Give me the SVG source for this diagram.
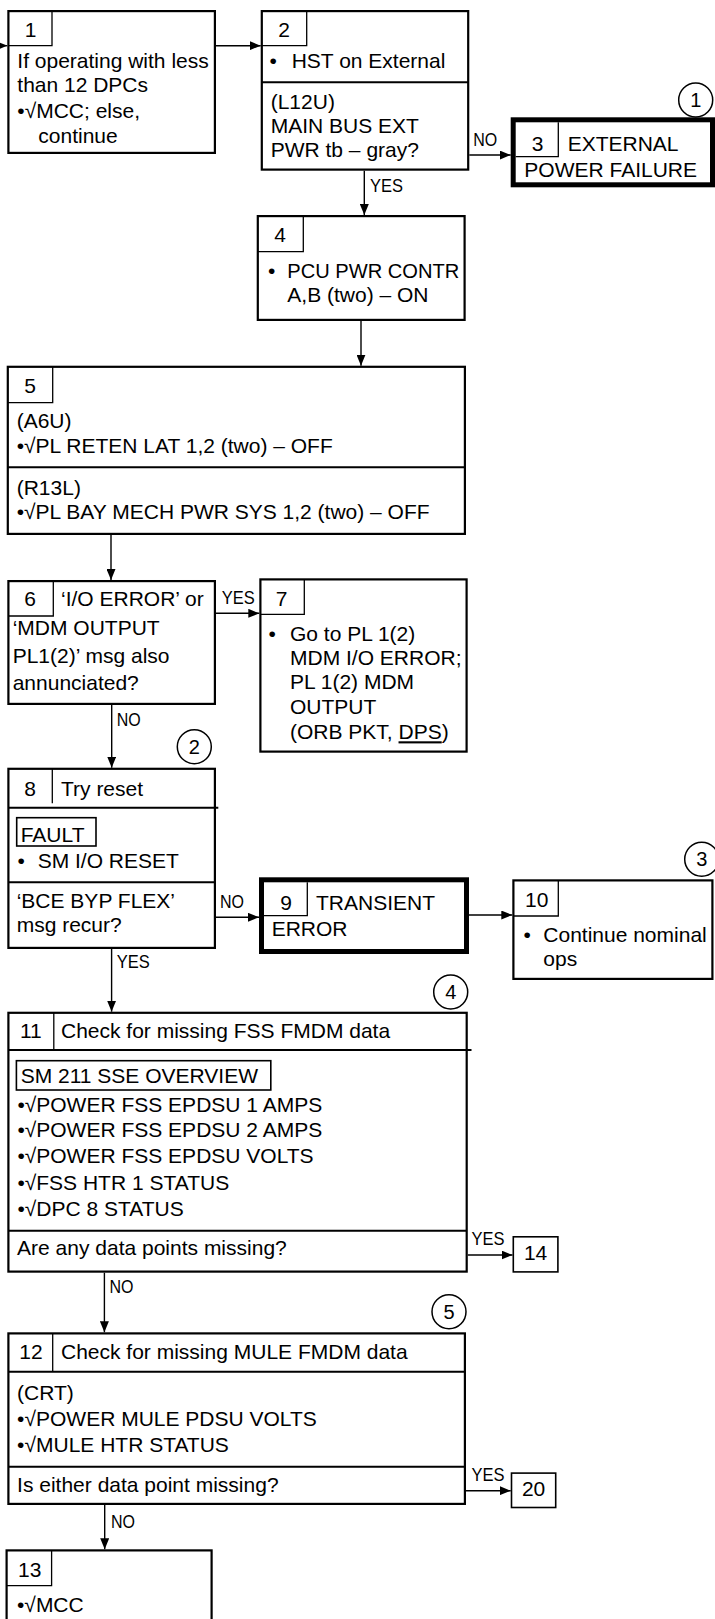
<svg xmlns="http://www.w3.org/2000/svg" width="715" height="1619" viewBox="0 0 715 1619">
<style>
.box{fill:#fff;stroke:#000;stroke-width:2.2}
.thick{fill:#fff;stroke:#000;stroke-width:5}
.small{fill:#fff;stroke:#000;stroke-width:1.6}
.cell{fill:none;stroke:#000;stroke-width:1.3}
.dv{fill:none;stroke:#000;stroke-width:2}
.frame{fill:none;stroke:#000;stroke-width:1.6}
.circ{fill:#fff;stroke:#000;stroke-width:1.5}
text{font-family:"Liberation Sans",Arial,sans-serif;font-size:21px;fill:#000}
.n{text-anchor:middle}
.c{text-anchor:middle;font-size:20px}
.lbl{font-size:18px}
.conn{fill:none;stroke:#000;stroke-width:1.4;marker-end:url(#arr)}
</style>
<defs>
<marker id="arr" markerWidth="11" markerHeight="9" refX="11" refY="4.5" orient="auto" markerUnits="userSpaceOnUse"><path d="M0,0 L11,4.5 L0,9 z" fill="#000"/></marker>
</defs>

<g id="connectors">
<line class="conn" x1="-10" y1="45.7" x2="7.3" y2="45.7"/>
<line class="conn" x1="215.6" y1="45.7" x2="260.7" y2="45.7"/>
<line class="conn" x1="469.3" y1="155" x2="510.7" y2="155"/>
<text class="lbl" x="473.3" y="146" textLength="24" lengthAdjust="spacingAndGlyphs">NO</text>
<line class="conn" x1="364.3" y1="170.7" x2="364.3" y2="215"/>
<text class="lbl" x="370" y="191.7" textLength="33" lengthAdjust="spacingAndGlyphs">YES</text>
<line class="conn" x1="361" y1="321" x2="361" y2="365.7"/>
<line class="conn" x1="111" y1="535" x2="111" y2="580"/>
<line class="conn" x1="216" y1="613.3" x2="259.3" y2="613.3"/>
<text class="lbl" x="221.7" y="604.3" textLength="33" lengthAdjust="spacingAndGlyphs">YES</text>
<line class="conn" x1="111.7" y1="705" x2="111.7" y2="767.7"/>
<text class="lbl" x="116.7" y="726" textLength="24" lengthAdjust="spacingAndGlyphs">NO</text>
<line class="conn" x1="216" y1="917.3" x2="259" y2="917.3"/>
<text class="lbl" x="220" y="908.3" textLength="24" lengthAdjust="spacingAndGlyphs">NO</text>
<line class="conn" x1="469" y1="915" x2="512.3" y2="915"/>
<line class="conn" x1="111.6" y1="949" x2="111.6" y2="1011.7"/>
<text class="lbl" x="116.7" y="968" textLength="33" lengthAdjust="spacingAndGlyphs">YES</text>
<line class="conn" x1="467.8" y1="1255" x2="512.5" y2="1255"/>
<text class="lbl" x="471.5" y="1245" textLength="33" lengthAdjust="spacingAndGlyphs">YES</text>
<line class="conn" x1="104.4" y1="1272.7" x2="104.4" y2="1332.3"/>
<text class="lbl" x="109.5" y="1293.3" textLength="24" lengthAdjust="spacingAndGlyphs">NO</text>
<line class="conn" x1="466" y1="1490.7" x2="510.7" y2="1490.7"/>
<text class="lbl" x="471.5" y="1480.7" textLength="33" lengthAdjust="spacingAndGlyphs">YES</text>
<line class="conn" x1="104.7" y1="1505" x2="104.7" y2="1549.3"/>
<text class="lbl" x="111" y="1527.7" textLength="24" lengthAdjust="spacingAndGlyphs">NO</text>
</g>

<g id="node1">
<rect class="box" x="8.4" y="11.1" width="206.5" height="141.8"/>
<path class="cell" d="M52,11 V45.7 H8.4"/>
<text class="n" x="30.5" y="36.7">1</text>
<text x="17.3" y="68.3">If operating with less</text>
<text x="17.3" y="92.3">than 12 DPCs</text>
<text x="17.3" y="118">•√MCC; else,</text>
<text x="38.3" y="142.5">continue</text>
</g>

<g id="node2">
<rect class="box" x="261.8" y="11.1" width="206.4" height="158.5"/>
<path class="cell" d="M306.7,11 V45.7 H261.8"/>
<path class="dv" d="M261.8,82.3 H468.2"/>
<text class="n" x="284" y="36.7">2</text>
<text x="269.6" y="68.3">•</text>
<text x="291.7" y="68.3">HST on External</text>
<text x="270.7" y="109">(L12U)</text>
<text x="270.7" y="132.7">MAIN BUS EXT</text>
<text x="270.7" y="156.7">PWR tb – gray?</text>
</g>

<g id="node3">
<rect class="thick" x="513.2" y="119.8" width="199.3" height="65"/>
<path class="cell" d="M558.3,122.3 V156.7 H515.7"/>
<text class="n" x="537.7" y="150.7">3</text>
<text x="567.7" y="150.7">EXTERNAL</text>
<text x="524.3" y="176.7">POWER FAILURE</text>
<circle class="circ" cx="695.7" cy="100" r="17"/>
<text class="c" x="695.7" y="107">1</text>
</g>

<g id="node4">
<rect class="box" x="257.8" y="216.1" width="206.8" height="103.8"/>
<path class="cell" d="M303.3,216 V251.7 H257.8"/>
<text class="n" x="280" y="242.3">4</text>
<text x="268" y="278.3">•</text>
<text x="287.3" y="278.3" textLength="172" lengthAdjust="spacingAndGlyphs">PCU PWR CONTR</text>
<text x="287.3" y="301.7">A,B (two) – ON</text>
</g>

<g id="node5">
<rect class="box" x="7.8" y="366.8" width="457.1" height="167.1"/>
<path class="cell" d="M52.7,367 V402.7 H7.8"/>
<path class="dv" d="M7.8,467.3 H464.9"/>
<text class="n" x="30" y="393.3">5</text>
<text x="16.7" y="428.3">(A6U)</text>
<text x="16.7" y="453.3">•√PL RETEN LAT 1,2 (two) – OFF</text>
<text x="16.7" y="495">(R13L)</text>
<text x="16.7" y="519.3">•√PL BAY MECH PWR SYS 1,2 (two) – OFF</text>
</g>

<g id="node6">
<rect class="box" x="8.4" y="581.1" width="206.5" height="122.8"/>
<path class="cell" d="M53.3,581 V616 H8.4"/>
<text class="n" x="30" y="606">6</text>
<text x="61" y="606">‘I/O ERROR’ or</text>
<text x="12.7" y="635">‘MDM OUTPUT</text>
<text x="12.7" y="662.7">PL1(2)’ msg also</text>
<text x="12.7" y="690">annunciated?</text>
</g>

<g id="node7">
<rect class="box" x="260.4" y="579.4" width="206.2" height="172.2"/>
<path class="cell" d="M304.3,579 V614.3 H260.4"/>
<text class="n" x="281.7" y="606">7</text>
<text x="268.5" y="640.7">•</text>
<text x="290" y="640.7">Go to PL 1(2)</text>
<text x="290" y="665">MDM I/O ERROR;</text>
<text x="290" y="689.3">PL 1(2) MDM</text>
<text x="290" y="714">OUTPUT</text>
<text x="290" y="739.3">(ORB PKT, <tspan text-decoration="underline">DPS</tspan>)</text>
</g>

<g id="node8">
<rect class="box" x="8.4" y="768.8" width="206.5" height="179.1"/>
<path class="cell" d="M52.3,769 V803.3"/>
<path class="dv" d="M8.4,807.7 H218.3 M8.4,882.3 H214.9"/>
<text class="n" x="30" y="796">8</text>
<text x="61" y="796">Try reset</text>
<rect class="frame" x="16.7" y="817.7" width="79.3" height="28.3"/>
<text x="20.7" y="841.7">FAULT</text>
<text x="17.5" y="867.7">•</text>
<text x="37.7" y="867.7">SM I/O RESET</text>
<text x="16.7" y="907.7">‘BCE BYP FLEX’</text>
<text x="16.7" y="931.7">msg recur?</text>
<circle class="circ" cx="194.3" cy="746.7" r="17"/>
<text class="c" x="194.3" y="753.7">2</text>
</g>

<g id="node9">
<rect class="thick" x="261.5" y="879.8" width="205" height="71.7"/>
<path class="cell" d="M307.3,882.3 V915.7 H264"/>
<text class="n" x="286" y="910">9</text>
<text x="316" y="910">TRANSIENT</text>
<text x="271.7" y="935.7">ERROR</text>
</g>

<g id="node10">
<rect class="box" x="513.4" y="880.4" width="199" height="98.5"/>
<path class="cell" d="M558.3,880.4 V916 H513.4"/>
<text class="n" x="536.7" y="906.7">10</text>
<text x="523.5" y="941.7">•</text>
<text x="543.3" y="941.7">Continue nominal</text>
<text x="543.3" y="965.7">ops</text>
<circle class="circ" cx="701.7" cy="859.3" r="17"/>
<text class="c" x="701.7" y="866.3">3</text>
</g>

<g id="node11">
<rect class="box" x="8.4" y="1012.8" width="458.3" height="258.8"/>
<path class="cell" d="M53.8,1013 V1049.3"/>
<path class="dv" d="M8.4,1050 H471.5 M8.4,1230.7 H466.7"/>
<text class="n" x="30.9" y="1038.3">11</text>
<text x="61" y="1038.3">Check for missing FSS FMDM data</text>
<rect class="frame" x="16.4" y="1060.7" width="254.4" height="29.3"/>
<text x="20.7" y="1083.3">SM 211 SSE OVERVIEW</text>
<text x="17.4" y="1111.5">•√POWER FSS EPDSU 1 AMPS</text>
<text x="17.4" y="1137">•√POWER FSS EPDSU 2 AMPS</text>
<text x="17.4" y="1163">•√POWER FSS EPDSU VOLTS</text>
<text x="17.4" y="1189.5">•√FSS HTR 1 STATUS</text>
<text x="17.4" y="1215.5">•√DPC 8 STATUS</text>
<text x="17.1" y="1255">Are any data points missing?</text>
<circle class="circ" cx="450.7" cy="992" r="17"/>
<text class="c" x="450.7" y="999">4</text>
</g>

<g id="node14">
<rect class="small" x="513.3" y="1236.8" width="44.6" height="35.1"/>
<text class="n" x="535.6" y="1260">14</text>
</g>

<g id="node12">
<rect class="box" x="8.4" y="1333.4" width="456.5" height="170.5"/>
<path class="cell" d="M52.7,1333.4 V1371.7"/>
<path class="dv" d="M8.4,1371.7 H464.9 M8.4,1466.7 H464.9"/>
<text class="n" x="31" y="1359">12</text>
<text x="61" y="1359">Check for missing MULE FMDM data</text>
<text x="17.1" y="1400">(CRT)</text>
<text x="17.1" y="1426">•√POWER MULE PDSU VOLTS</text>
<text x="17.1" y="1451.7">•√MULE HTR STATUS</text>
<text x="17.1" y="1491.7">Is either data point missing?</text>
<circle class="circ" cx="449" cy="1311.7" r="17"/>
<text class="c" x="449" y="1318.7">5</text>
</g>

<g id="node20">
<rect class="small" x="511.5" y="1473.1" width="44.2" height="34.4"/>
<text class="n" x="533.6" y="1496">20</text>
</g>

<g id="node13">
<rect class="box" x="6.6" y="1550.4" width="205" height="100"/>
<path class="cell" d="M51.6,1550.4 V1585.7 H6.6"/>
<text class="n" x="29.8" y="1577.3">13</text>
<text x="17" y="1611.7">•√MCC</text>
</g>
</svg>
